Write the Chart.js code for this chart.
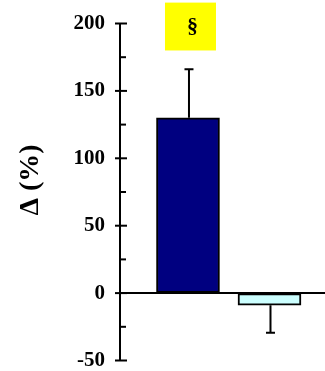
<!DOCTYPE html>
<html>
<head>
<meta charset="utf-8">
<script src="https://cdn.jsdelivr.net/npm/chart.js@4/dist/chart.umd.min.js"></script>
<style>
  html, body { margin: 0; padding: 0; background: #fff; }
</style>
</head>
<body>
<canvas id="c" width="325" height="371"></canvas>
<script>
// Groups, mean change and SD
const categories = ['A', 'B'];
const values = [130, -9];
const errors = [36, 20.5];
const barColors = ['#000080', '#CCFFFF'];
// Labelled y ticks (minor ticks sit halfway between)
const yTicks = [-50, 0, 50, 100, 150, 200];
const yTitle = 'Δ (%)';
const markText = '§';
const markRange = [180, 215.5];   // y extent of the highlighted marker box

const SERIF = "'Liberation Serif', 'Times New Roman', serif";

const decorations = {
  id: 'decorations',
  afterDatasetsDraw(chart) {
    const { ctx, chartArea } = chart;
    const y = chart.scales.y;
    const meta = chart.getDatasetMeta(0);
    ctx.save();
    ctx.strokeStyle = '#000';
    ctx.lineWidth = 2;

    // zero line across the plot
    const y0 = y.getPixelForValue(0);
    ctx.beginPath();
    ctx.moveTo(chartArea.left, y0);
    ctx.lineTo(chart.width, y0);
    ctx.stroke();

    // one-sided error bars
    values.forEach((v, i) => {
      const bar = meta.data[i];
      const sign = v >= 0 ? 1 : -1;
      const yv = y.getPixelForValue(v);
      const ye = y.getPixelForValue(v + sign * errors[i]);
      const x = bar.x + 1;
      ctx.beginPath();
      ctx.moveTo(x, yv);
      ctx.lineTo(x, ye);
      ctx.moveTo(x - 4.5, ye);
      ctx.lineTo(x + 4.5, ye);
      ctx.stroke();
    });

    // axis tick marks: major ticks cross the axis, minor ticks point inward
    const left = chartArea.left;
    y.ticks.forEach(t => {
      const py = y.getPixelForValue(t.value);
      const major = yTicks.includes(t.value);
      ctx.beginPath();
      ctx.moveTo(major ? left - 5 : left, py);
      ctx.lineTo(left + (major ? 7 : 6), py);
      ctx.stroke();
    });
    ctx.restore();
  },
  afterDraw(chart) {
    const { ctx } = chart;
    const y = chart.scales.y;
    const bar = chart.getDatasetMeta(0).data[0];
    ctx.save();

    // highlighted marker above the first bar
    const top = y.getPixelForValue(markRange[1]);
    const bottom = y.getPixelForValue(markRange[0]);
    const cx = bar.x + 2.5;
    ctx.fillStyle = '#FFFF00';
    ctx.fillRect(cx - 25.5, top, 51, bottom - top);
    ctx.fillStyle = '#000';
    ctx.font = 'bold 22px ' + SERIF;
    ctx.textAlign = 'center';
    ctx.textBaseline = 'middle';
    ctx.fillText(markText, cx + 2, (top + bottom) / 2 + 1);

    // rotated y-axis title
    ctx.translate(31, 180);
    ctx.rotate(-Math.PI / 2);
    ctx.font = 'bold 28px ' + SERIF;
    ctx.fillText(yTitle, 0, 0);
    ctx.restore();
  }
};

new Chart(document.getElementById('c'), {
  type: 'bar',
  data: {
    datasets: [{
      label: 'Δ',
      data: values.map((v, i) => ({ x: i + 1, y: v })),
      backgroundColor: barColors,
      borderColor: '#000',
      borderWidth: 2,
      borderSkipped: false,
      barThickness: 63
    }]
  },
  options: {
    responsive: false,
    animation: false,
    layout: { padding: { top: 23.5, bottom: 10.5, left: 0, right: 0 } },
    plugins: { legend: { display: false }, tooltip: { enabled: false } },
    scales: {
      x: {
        type: 'linear',
        display: false,
        offset: false,
        min: 0.166,
        max: 2.681,
        afterBuildTicks: s => { s.ticks = categories.map((c, i) => ({ value: i + 1 })); }
      },
      y: {
        min: -50,
        max: 200,
        afterFit: s => { s.width = 120; },
        grid: { display: true, drawOnChartArea: false, drawTicks: true, tickLength: 15, tickColor: 'rgba(0,0,0,0)' },
        border: { display: true, color: '#000', width: 2 },
        ticks: {
          stepSize: 25,
          autoSkip: false,
          padding: 0,
          color: '#000',
          font: { family: SERIF, size: 21, weight: 'bold', lineHeight: 1 },
          callback: v => (yTicks.includes(v) ? String(v) : '')
        }
      }
    }
  },
  plugins: [decorations]
});
</script>
</body>
</html>
